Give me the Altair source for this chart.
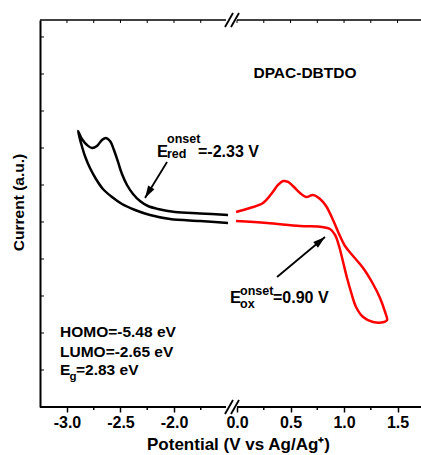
import altair as alt
import pandas as pd

# Cyclic voltammogram of DPAC-DBTDO, potential in V vs Ag/Ag+, current in arbitrary units.
# Reduction scan (traced as one closed loop: return branch, then forward branch with the peak)
reduction_v = [-1.495, -1.757, -2.037, -2.224, -2.364, -2.486, -2.579, -2.664, -2.729, -2.785,
               -2.832, -2.869, -2.897,
               -2.860, -2.813, -2.766, -2.720, -2.673, -2.636, -2.598, -2.561, -2.523, -2.486,
               -2.439, -2.383, -2.318, -2.243, -2.150, -1.991, -1.757, -1.495]
reduction_i = [4.973, 5.027, 5.081, 5.189, 5.324, 5.486, 5.676, 5.892, 6.162, 6.459,
               6.784, 7.135, 7.459,
               7.243, 7.081, 7.000, 7.054, 7.216, 7.270, 7.189, 6.946, 6.622, 6.297,
               6.000, 5.757, 5.568, 5.432, 5.351, 5.270, 5.230, 5.189]

# Oxidation scan (upper branch out to the turning point, lower branch back)
oxidation_v = [-0.009, 0.121, 0.243, 0.327, 0.383, 0.430, 0.477, 0.523, 0.589, 0.645,
               0.710, 0.776, 0.832, 0.897, 0.953, 1.009, 1.084, 1.178, 1.271, 1.336,
               1.383, 1.402,
               1.374, 1.271, 1.178, 1.112, 1.065, 1.028, 0.991, 0.953, 0.916, 0.869,
               0.794, 0.589, 0.280, -0.009]
oxidation_i = [5.270, 5.378, 5.514, 5.784, 6.000, 6.108, 6.081, 5.973, 5.784, 5.676,
               5.730, 5.622, 5.432, 5.054, 4.676, 4.351, 4.081, 3.757, 3.324, 2.946,
               2.568, 2.351,
               2.297, 2.297, 2.432, 2.703, 3.108, 3.486, 3.919, 4.351, 4.649, 4.811,
               4.865, 4.892, 4.973, 5.027]

# Axis ticks (real potentials) and their labels
major_v = [-3.0, -2.5, -2.0, 0.0, 0.5, 1.0, 1.5]
major_labels = ["-3.0", "-2.5", "-2.0", "0.0", "0.5", "1.0", "1.5"]
minor_v = [-2.75, -2.25, -1.75, 0.25, 0.75, 1.25]
current_ticks = [1, 2, 3, 4, 5, 6, 7, 8, 9, 10]

# Onset arrows: (tail potential, tail current, head potential, head current)
arrow_tail_v = [-2.065, 0.374]
arrow_tail_i = [6.622, 3.514]
arrow_head_v = [-2.271, 0.822]
arrow_head_i = [5.649, 4.595]
arrow_angle = [211, 50]

# The empty stretch between -1.5 V and 0 V is cut out of the axis
SHIFT = 1.411
BREAK_AT = -1.0
X_DOMAIN = [-3.252, 0.308]
Y_DOMAIN = [0, 10.459]
FONT = "Liberation Sans"


def to_axis(v):
    return v if v < BREAK_AT else v - SHIFT


def axis_expr(field):
    return f"datum.{field} < {BREAK_AT} ? datum.{field} : datum.{field} - {SHIFT}"


curves = pd.concat([
    pd.DataFrame({"v": reduction_v, "i": reduction_i, "scan": "reduction",
                  "k": range(len(reduction_v))}),
    pd.DataFrame({"v": oxidation_v, "i": oxidation_i, "scan": "oxidation",
                  "k": range(len(oxidation_v))}),
])

major_d = [to_axis(v) for v in major_v]
label_expr = " : ".join(
    f"abs(datum.value - ({d})) < 0.01 ? '{lab}'" for d, lab in zip(major_d, major_labels)
) + " : ''"

xscale = alt.Scale(domain=X_DOMAIN, nice=False, zero=False)
yscale = alt.Scale(domain=Y_DOMAIN, nice=False, zero=False)

x_axis = alt.Axis(
    values=major_d, labelExpr=label_expr, domain=False, grid=False,
    tickSize=5, tickWidth=1.5, tickColor="black",
    labelFont=FONT, labelFontWeight="bold", labelFontSize=16, labelColor="black",
    labelPadding=2, labelFlush=False,
    title="Potential (V vs Ag/Ag\u207a)", titleFont=FONT, titleFontWeight="bold",
    titleFontSize=17, titleColor="black", titleX=198, titleY=42,
    titleBaseline="alphabetic", titleAlign="center",
)
y_axis = alt.Axis(
    labels=False, ticks=False, grid=False, domainWidth=2, domainColor="black",
    title="Current (a.u.)", titleFont=FONT, titleFontWeight="bold", titleFontSize=15.5,
    titleColor="black", titleX=-17, titleY=182, titleAngle=270,
    titleAlign="center", titleBaseline="alphabetic",
)

lines = alt.Chart(curves).transform_calculate(x=axis_expr("v")).mark_line(
    strokeWidth=2.5, interpolate="catmull-rom", strokeJoin="round"
).encode(
    x=alt.X("x:Q", scale=xscale, axis=x_axis),
    y=alt.Y("i:Q", scale=yscale, axis=y_axis),
    color=alt.Color("scan:N", scale=alt.Scale(domain=["reduction", "oxidation"],
                                              range=["#000000", "#ff0000"]), legend=None),
    detail="scan:N",
    order="k:Q",
)

# Minor ticks below the bottom axis, small inward ticks along the top edge
ticks_df = pd.DataFrame({"v": major_v + minor_v,
                         "kind": ["major"] * len(major_v) + ["minor"] * len(minor_v)})
minor_ticks = alt.Chart(ticks_df).transform_filter("datum.kind == 'minor'").transform_calculate(
    x=axis_expr("v")).mark_rule(color="black", strokeWidth=1.5).encode(
    x=alt.X("x:Q", scale=xscale), y=alt.value(387), y2=alt.value(390))
top_ticks = alt.Chart(ticks_df).transform_calculate(x=axis_expr("v")).mark_rule(
    color="black", strokeWidth=1).encode(
    x=alt.X("x:Q", scale=xscale), y=alt.value(0), y2=alt.value(3))

# Inward ticks on the current axis
y_ticks_df = pd.DataFrame({"t": current_ticks})
left_ticks = alt.Chart(y_ticks_df).mark_rule(color="black", strokeWidth=1).encode(
    x=alt.value(0), x2=alt.value(4), y=alt.Y("t:Q", scale=yscale))

# Frame lines with the axis break
one = pd.DataFrame({"a": [0]})
frame = alt.layer(
    alt.Chart(one).mark_rule(color="black", strokeWidth=2).encode(
        x=alt.value(0), x2=alt.value(186), y=alt.value(387)),
    alt.Chart(one).mark_rule(color="black", strokeWidth=2).encode(
        x=alt.value(197), x2=alt.value(381), y=alt.value(387)),
    alt.Chart(one).mark_rule(color="black", strokeWidth=1.5).encode(
        x=alt.value(0), x2=alt.value(186), y=alt.value(0)),
    alt.Chart(one).mark_rule(color="black", strokeWidth=1.5).encode(
        x=alt.value(197), x2=alt.value(381), y=alt.value(0)),
)
slashes = []
for y0 in (0, 387):
    for x0 in (185, 191):
        slashes.append(alt.Chart(one).mark_rule(color="black", strokeWidth=1.8).encode(
            x=alt.value(x0), x2=alt.value(x0 + 8), y=alt.value(y0 + 7), y2=alt.value(y0 - 7)))

# Onset arrows
arrows_df = pd.DataFrame({"tv": arrow_tail_v, "ti": arrow_tail_i, "hv": arrow_head_v,
                          "hi": arrow_head_i, "ang": arrow_angle})
arrow_shafts = alt.Chart(arrows_df).transform_calculate(
    tx=axis_expr("tv"), hx=axis_expr("hv")).mark_rule(strokeWidth=1.8, color="black").encode(
    x=alt.X("tx:Q", scale=xscale), x2="hx:Q",
    y=alt.Y("ti:Q", scale=yscale), y2="hi:Q")
arrow_heads = alt.Chart(arrows_df).transform_calculate(hx=axis_expr("hv")).mark_point(
    shape="M0,0L-0.6,2L0.6,2Z", filled=True, size=150, opacity=1, color="black").encode(
    x=alt.X("hx:Q", scale=xscale), y=alt.Y("hi:Q", scale=yscale),
    angle=alt.Angle("ang:Q", scale=None))


def label(text, x, y, size):
    return alt.Chart(one).mark_text(
        text=text, font=FONT, fontWeight="bold", fontSize=size, color="black",
        align="left", baseline="alphabetic").encode(x=alt.value(x), y=alt.value(y))


texts = [
    alt.Chart(one).mark_text(text="DPAC-DBTDO", font=FONT, fontWeight="bold", fontSize=15.5,
                             color="black", align="center", baseline="alphabetic").encode(
        x=alt.value(265), y=alt.value(58)),
    label("E", 117, 137, 16.5),
    label("onset", 127, 123, 12.5),
    label("red", 127, 138, 12.5),
    label("=-2.33 V", 158, 137, 16),
    label("E", 190, 283, 16.5),
    label("onset", 200, 275, 12.5),
    label("ox", 200, 288, 12.5),
    label("=0.90 V", 233, 283, 16),
    label("HOMO=-5.48 eV", 20, 317, 15.5),
    label("LUMO=-2.65 eV", 20, 337, 15.5),
    label("E", 20, 355, 15.5),
    label("g", 29.5, 360, 11.5),
    label("=2.83 eV", 36, 355, 15.5),
]

chart = alt.layer(
    lines, minor_ticks, top_ticks, left_ticks, frame, *slashes,
    arrow_shafts, arrow_heads, *texts
).properties(
    width=381, height=387,
    autosize=alt.AutoSizeParams(type="none"),
    padding={"left": 40, "top": 20, "right": 0, "bottom": 48},
    background="white",
).configure_view(stroke=None)

chart.save("out.html", embed_options={"renderer": "svg", "actions": False})
